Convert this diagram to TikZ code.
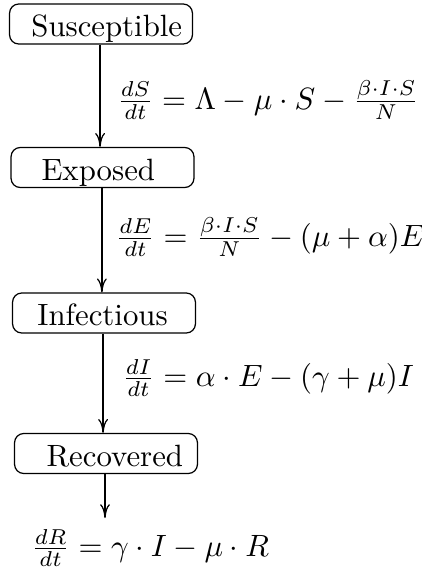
\documentclass[tikz,border=0pt]{standalone}
\usepackage{tikz}
\usetikzlibrary{arrows.meta}

\begin{document}
\begin{tikzpicture}[x=0.3247pt,y=-0.3247pt,
  compartment/.style={draw,rounded corners=3pt,inner xsep=0pt,inner ysep=0.4pt,
    text width=59.4pt,align=left,text height=10.3pt,text depth=1.9pt},
  flow/.style={-{To[length=4.5pt,width=3.2pt]}},
  rate/.style={inner sep=0pt}]
\useasboundingbox (0,0) rectangle (422,575);

% compartments
\node[compartment] (S) at (101,24) {\hspace*{7.1pt}Susceptible};
\node[compartment] (E) at (102.5,167.5) {\hspace*{9.9pt}Exposed};
\node[compartment] (I) at (104,313) {\hspace*{8.1pt}Infectious};
\node[compartment] (R) at (106,453.5) {\hspace*{10.4pt}Recovered};
\coordinate (Rout) at (105,518);

% flows
\draw[flow] ([xshift=-0.3pt]S.south) -- ([xshift=-0.3pt]S.south |- E.north);
\draw[flow] ([xshift=-0.2pt]E.south) -- ([xshift=-0.2pt]E.south |- I.north);
\draw[flow] ([xshift=-0.3pt]I.south) -- ([xshift=-0.3pt]I.south |- R.north);
\draw[flow] (R.south -| Rout) -- (Rout);

% rates
\node[rate] (dS) at (268,100) {$\frac{dS}{dt} = \Lambda - \mu\cdot S - \frac{\beta\cdot I\cdot S}{N}$};
\node[rate] (dE) at (270,237) {$\frac{dE}{dt} = \frac{\beta\cdot I\cdot S}{N} - (\mu+\alpha)E$};
\node[rate] (dI) at (268,378) {$\frac{dI}{dt} = \alpha\cdot E - (\gamma+\mu)I$};
\node[rate] (dR) at (150,548) {$\frac{dR}{dt} = \gamma\cdot I - \mu\cdot R$};

\end{tikzpicture}
\end{document}
